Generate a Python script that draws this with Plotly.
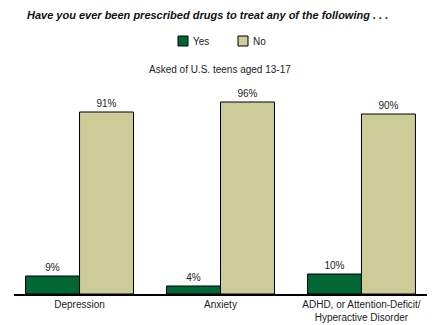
import plotly.graph_objects as go

categories = ["Depression", "Anxiety", "ADHD, or Attention-Deficit/<br>Hyperactive Disorder"]
yes_values = [9, 4, 10]
no_values = [91, 96, 90]
series_names = ["Yes", "No"]
series_colors = ["#006633", "#CCCC99"]

FONT = "Liberation Sans, Arial, sans-serif"
x = list(range(len(categories)))

W, L, R, T, B, H = 440, 14, 13, 94, 31, 325
pw = W - L - R
ph = H - T - B
def px(xp):
    return (xp - L) / pw
def py(yp):
    return (H - B - yp) / ph

fig = go.Figure()
for name, vals, col in zip(series_names, [yes_values, no_values], series_colors):
    fig.add_trace(go.Bar(
        x=x, y=vals, name=name,
        marker=dict(color=col, line=dict(color="black", width=1)),
        text=[f"{v}%" for v in vals], textposition="outside",
        textfont=dict(size=10, color="#222", family=FONT), cliponaxis=False,
    ))

shapes = []
annotations = [
    dict(text="<b><i>Have you ever been prescribed drugs to treat any of the following . . .</i></b>",
         xref="paper", yref="paper", x=px(25), y=py(15), xanchor="left", yanchor="middle",
         showarrow=False, font=dict(size=11, family=FONT, color="#111")),
    dict(text="Asked of U.S. teens aged 13-17",
         xref="paper", yref="paper", x=px(220), y=py(70), xanchor="center", yanchor="middle",
         showarrow=False, font=dict(size=10, family=FONT, color="#222")),
]
# custom legend
legend_x = [178, 238]
for lx, name, col in zip(legend_x, series_names, series_colors):
    shapes.append(dict(type="rect", xref="paper", yref="paper",
                       x0=px(lx), x1=px(lx + 10), y0=py(46), y1=py(36),
                       fillcolor=col, line=dict(color="black", width=1)))
    annotations.append(dict(text=name, xref="paper", yref="paper", x=px(lx + 13), y=py(41),
                            xanchor="left", yanchor="middle", showarrow=False,
                            font=dict(size=10, family=FONT, color="#222")))

fig.update_layout(
    width=W, height=H,
    margin=dict(l=L, r=R, t=T, b=B, autoexpand=False),
    paper_bgcolor="white", plot_bgcolor="white",
    barmode="group", bargap=0.234, bargroupgap=0,
    font=dict(family=FONT, size=10, color="#222"),
    showlegend=False,
    xaxis=dict(
        range=[-0.465, 2.465], tickmode="array", tickvals=x, ticktext=categories,
        showline=True, linecolor="black", linewidth=2, ticks="", showgrid=False,
        zeroline=False, tickfont=dict(size=10, family=FONT, color="#222"),
        ticklabelstandoff=0, automargin=False,
    ),
    yaxis=dict(range=[0, 100], visible=False, showgrid=False, zeroline=False),
    shapes=shapes,
    annotations=annotations,
)

fig.write_html("out.html")
